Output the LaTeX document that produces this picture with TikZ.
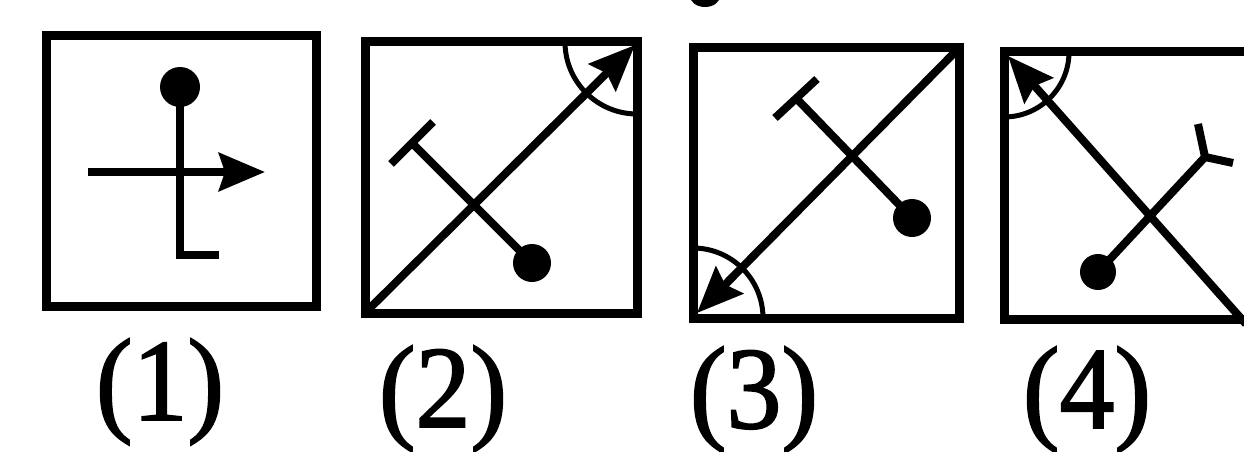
\documentclass[tikz,border=0pt]{standalone}
\usepackage{fontspec}
\setmainfont{Liberation Serif}
\newfontfamily\lblfont[FakeBold=1.6]{Liberation Serif}
\usetikzlibrary{arrows.meta}
\tikzset{
  frame/.style={line width=9pt, line join=miter},
  stroke/.style={line width=8pt, line join=miter},
  thin arc/.style={line width=5pt},
  dot/.style={fill=black},
  tiparrow/.style={-{Stealth[length=46pt, width=38pt, inset=6pt]}},
  lbl/.style={anchor=base, inner sep=0pt, font=\lblfont\fontsize{117}{128}\selectfont, xscale=0.94}
}
\begin{document}
\begin{tikzpicture}[x=1pt, y=-1pt]
\useasboundingbox (0,0) rectangle (1244,452);
\clip (0,0) rectangle (1244,452);
% cropped blob at top
\fill (705,-4) ellipse [x radius=15, y radius=11];
% ---- Figure 1 ----
\draw[frame] (46,36) rectangle (316,306);
\coordinate (d1) at (180,87);
\coordinate (l1) at (180,255);
\coordinate (e1) at (219,255);
\draw[stroke] (d1) -- (l1) -- (e1);
\fill[dot] (d1) circle[radius=20];
\coordinate (a1s) at (88,172);
\coordinate (a1e) at (265,172);
\draw[stroke, tiparrow] (a1s) -- (a1e);
\node[lbl] (n1) at (160,420) {(1)};
% ---- Figure 2 ----
\draw[frame] (365,42) rectangle (637,313);
\coordinate (b2s) at (365,313);
\coordinate (b2e) at (635,45);
\draw[stroke, tiparrow] (b2s) -- (b2e);
\draw[thin arc] (565,42) arc[start angle=180, end angle=90, radius=72];
\coordinate (t2) at (412,143);
\coordinate (t2a) at (391,164);
\coordinate (t2b) at (433,122);
\coordinate (d2) at (532,263);
\draw[stroke] (t2a) -- (t2b);
\draw[stroke] (t2) -- (d2);
\fill[dot] (d2) circle[radius=19];
\node[lbl] (n2) at (443,427) {(2)};
% ---- Figure 3 ----
\draw[frame] (693,48) rectangle (959,318);
\coordinate (b3s) at (959,48);
\coordinate (b3e) at (697,313);
\draw[stroke, tiparrow] (b3s) -- (b3e);
\draw[thin arc] (693,248) arc[start angle=270, end angle=360, radius=70];
\coordinate (t3) at (796,98);
\coordinate (t3a) at (775,118);
\coordinate (t3b) at (817,79);
\coordinate (d3) at (912,218);
\draw[stroke] (t3a) -- (t3b);
\draw[stroke] (t3) -- (d3);
\fill[dot] (d3) circle[radius=19];
\node[lbl] (n3) at (754,428) {(3)};
% ---- Figure 4 ----
\draw[frame] (1004,52) rectangle (1252,319);
\coordinate (b4s) at (1246,324);
\coordinate (b4e) at (1008,56);
\draw[stroke, tiparrow] (b4s) -- (b4e);
\draw[thin arc] (1069,52) arc[start angle=0, end angle=90, radius=65];
\coordinate (d4) at (1098,272);
\coordinate (f4) at (1205,157);
\coordinate (f4a) at (1198,124);
\coordinate (f4b) at (1233,163);
\draw[stroke] (d4) -- (f4);
\draw[stroke] (f4a) -- (f4) -- (f4b);
\fill[dot] (d4) circle[radius=18];
\node[lbl] (n4) at (1087,428) {(4)};
\end{tikzpicture}
\end{document}
